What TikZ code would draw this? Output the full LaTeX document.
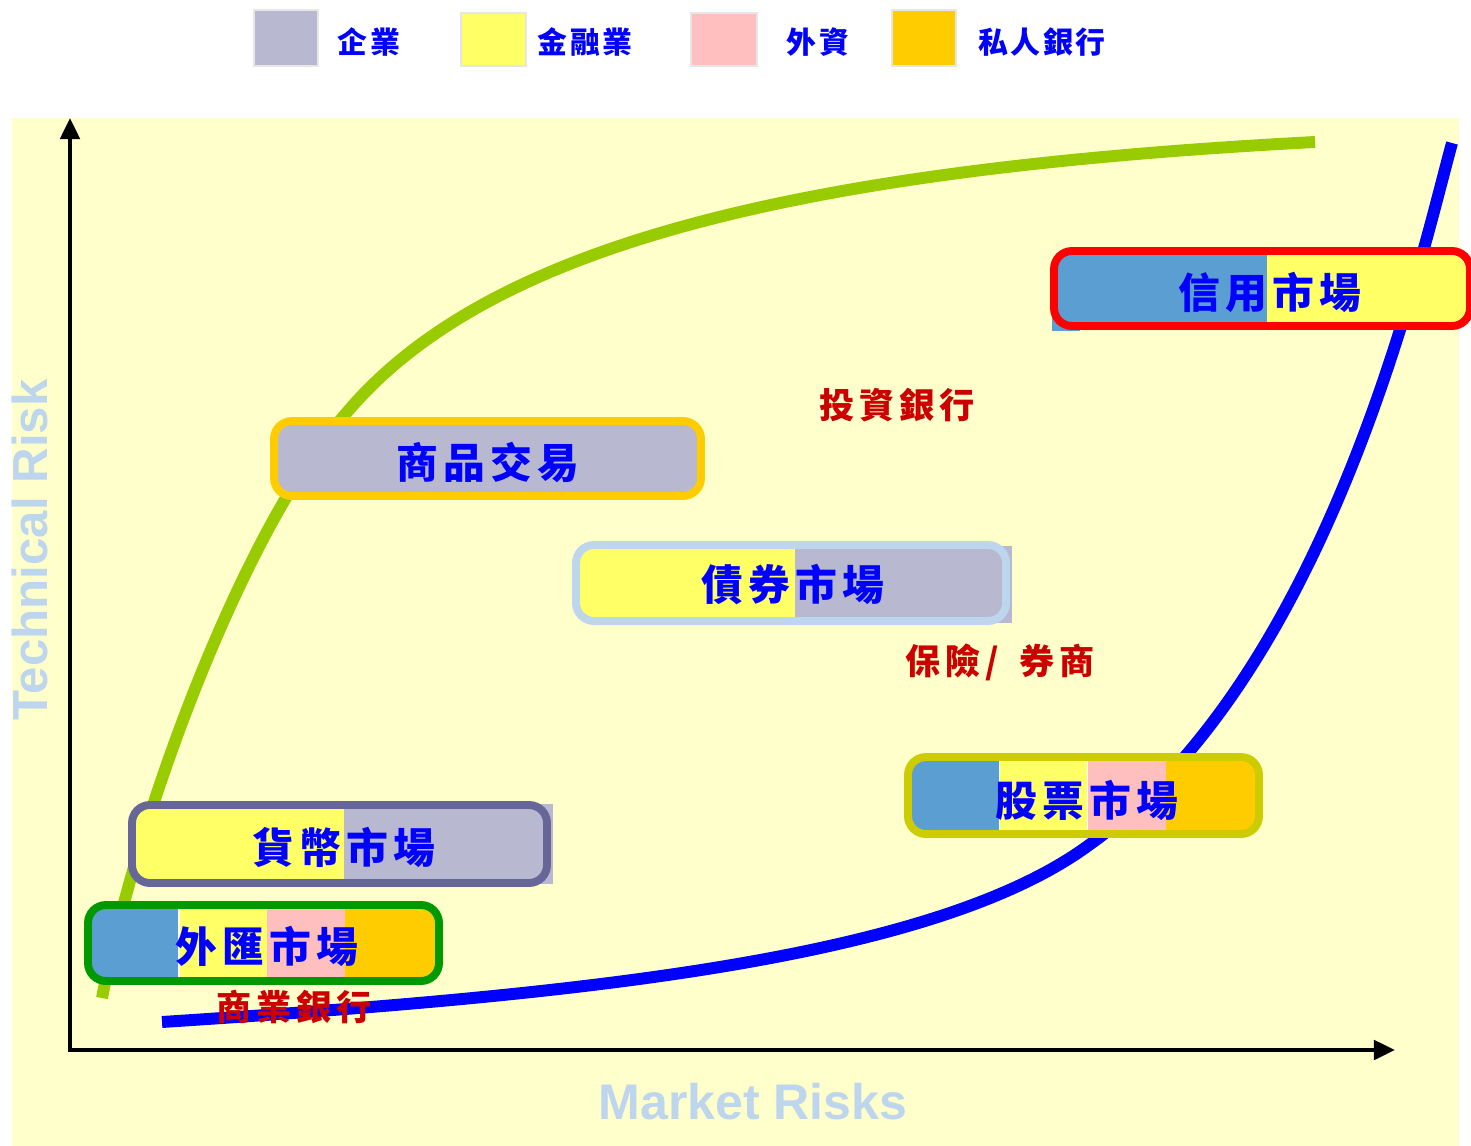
\documentclass[tikz,border=0pt]{standalone}
\usepackage{fontspec}
\setmainfont{Liberation Sans}
\newfontfamily\cjkbox[LetterSpace=12]{Noto Sans CJK TC}
\newfontfamily\cjklab[LetterSpace=14]{Noto Sans CJK TC}
\newfontfamily\cjkleg[LetterSpace=8]{Noto Sans CJK TC}
\usetikzlibrary{arrows.meta}
\definecolor{bg}{HTML}{FFFFCC}
\definecolor{lav}{HTML}{B8B8D0}
\definecolor{yel}{HTML}{FFFF66}
\definecolor{pinkc}{HTML}{FFBFBF}
\definecolor{gold}{HTML}{FFCC00}
\definecolor{steel}{HTML}{5A9ED2}
\definecolor{grn}{HTML}{99CC00}
\definecolor{redtxt}{HTML}{CC0000}
\definecolor{axlab}{HTML}{BDD6EE}
\definecolor{txtblue}{HTML}{0000FF}
\definecolor{olive}{HTML}{CCCC00}
\definecolor{slate}{HTML}{666699}
\definecolor{fxgreen}{HTML}{009900}
\definecolor{legborder}{HTML}{E6E6E6}
\tikzset{
  boxtxt/.style={font=\cjkbox\bfseries\fontsize{23.8pt}{26pt}\selectfont, text=txtblue, inner sep=0pt},
  labtxt/.style={font=\cjklab\bfseries\fontsize{20pt}{22pt}\selectfont, text=redtxt, inner sep=0pt},
  legtxt/.style={font=\cjkleg\bfseries\fontsize{17pt}{19pt}\selectfont, text=txtblue, inner sep=0pt},
  legsq/.style={draw=legborder, line width=1.2pt},
  boxline/.style={line width=4.5pt, rounded corners=0.36cm},
  boxclip/.style={rounded corners=0.36cm},
  axis/.style={line width=2.3pt, -{Triangle[length=12pt,width=11pt]}},
  axtxt/.style={font=\bfseries\fontsize{28pt}{30pt}\selectfont, text=axlab, inner sep=0pt},
  curve/.style={line width=6.8pt}
}
\begin{document}
\begin{tikzpicture}[x=0.02cm,y=-0.02cm]
\useasboundingbox (0,0) rectangle (1471,1146);
\fill[white] (0,0) rectangle (1471,1146);
% legend
\fill[lav, legsq] (254,10) rectangle (318,66);
\node[legtxt] (lg1) at (369,42) {企業};
\fill[yel, legsq] (461,13) rectangle (526,66);
\node[legtxt] (lg2) at (585,42) {金融業};
\fill[pinkc, legsq] (691,13) rectangle (757,66);
\node[legtxt] (lg3) at (818,42) {外資};
\fill[gold, legsq] (892,10) rectangle (956,66);
\node[legtxt] (lg4) at (1042,42) {私人銀行};
% background panel
\fill[bg] (12,118) rectangle (1459,1146);
% axes
\coordinate (O) at (70,1050);
\coordinate (ytip) at (70,118);
\coordinate (xtip) at (1395,1050);
\draw[axis] ([yshift=-1pt]O) -- (ytip);
\draw[axis] ([xshift=-1pt]O) -- (xtip);
\node[axtxt, rotate=90] (ylab) at (30,550) {Technical Risk};
\node[axtxt, font=\bfseries\fontsize{28.5pt}{30pt}\selectfont] (xlab) at (753,1102) {Market Risks};
% curves
\coordinate (g0) at (102,998);
\coordinate (g1) at (343,417);
\coordinate (g2) at (1315,142);
\draw[curve, grn] (g0) .. controls (140,800) and (250,520) .. (g1)
                       .. controls (480,250) and (780,170) .. (g2);
\coordinate (b0) at (162,1022);
\coordinate (b1) at (1089,845);
\coordinate (b2) at (1452,143);
\draw[curve, txtblue] (b0) .. controls (562,996) and (930,962) .. (b1)
                           .. controls (1329,675) and (1420,260) .. (b2);
% credit market
\fill[steel] (1052,290) rectangle (1080,331);
\begin{scope}
\clip[boxclip] (1054,251) rectangle (1470,326);
\fill[steel] (1054,251) rectangle (1267,326);
\fill[yel] (1267,251) rectangle (1470,326);
\end{scope}
\draw[boxline, red] (1054,251) rectangle (1470,326);
\node[boxtxt] (credit) at (1270,292) {信用市場};
% commodity
\fill[boxclip, lav] (274,421) rectangle (701,496);
\draw[boxline, gold] (274,421) rectangle (701,496);
\node[boxtxt] (commodity) at (488,462) {商品交易};
% bond market
\fill[lav] (795,546) rectangle (1012,623);
\begin{scope}
\clip[boxclip] (576,545) rectangle (1006,621);
\fill[yel] (576,545) rectangle (795,621);
\end{scope}
\draw[boxline, axlab] (576,545) rectangle (1006,621);
\node[boxtxt] (bond) at (793,585) {債券市場};
% stock market
\begin{scope}
\clip[boxclip] (908,757) rectangle (1259,834);
\fill[steel] (908,757) rectangle (999,834);
\fill[yel] (999,757) rectangle (1087,834);
\fill[pinkc] (1087,757) rectangle (1166,834);
\fill[gold] (1166,757) rectangle (1259,834);
\fill[white] (998.5,757) rectangle (1000,834);
\fill[white] (1086.5,757) rectangle (1088,834);
\end{scope}
\draw[boxline, olive] (908,757) rectangle (1259,834);
\node[boxtxt] (stock) at (1087,800) {股票市場};
% money market
\fill[lav] (344,804) rectangle (553,884);
\begin{scope}
\clip[boxclip] (132,805) rectangle (547,883);
\fill[yel] (132,805) rectangle (344,883);
\end{scope}
\draw[boxline, slate] (132,805) rectangle (547,883);
\node[boxtxt] (money) at (344,847) {貨幣市場};
% FX market
\begin{scope}
\clip[boxclip] (88,905) rectangle (439,981);
\fill[steel] (88,905) rectangle (179,981);
\fill[yel] (179,905) rectangle (267,981);
\fill[pinkc] (267,905) rectangle (345,981);
\fill[gold] (345,905) rectangle (439,981);
\fill[white] (178,905) rectangle (179.5,981);
\end{scope}
\draw[boxline, fxgreen] (88,905) rectangle (439,981);
\node[boxtxt] (fx) at (267,946) {外匯市場};
% red labels
\node[labtxt] (ib) at (897,405) {投資銀行};
\node[labtxt] (ins) at (1000,662) {保險/\hspace{0.6em}券商};
\node[labtxt] (cb) at (294,1007) {商業銀行};
\end{tikzpicture}
\end{document}
